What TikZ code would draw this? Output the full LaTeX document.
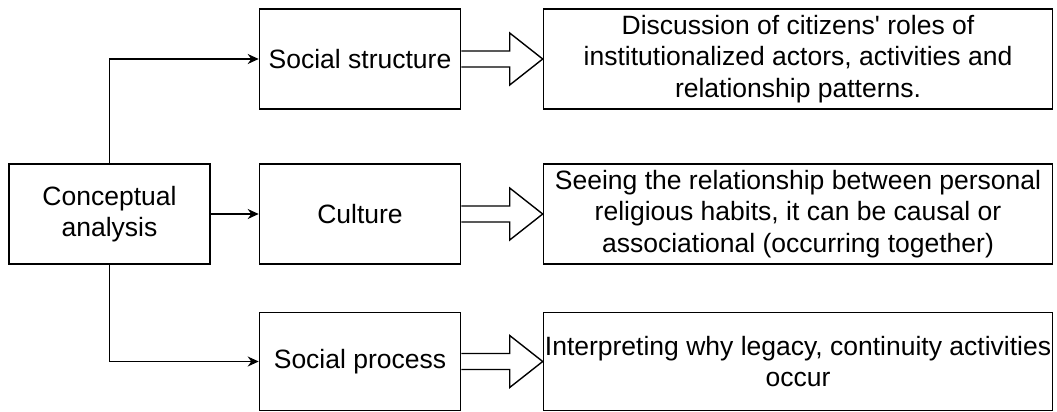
\documentclass[tikz,border=0pt]{standalone}
\usepackage{fontspec}
\setmainfont{Liberation Sans}
\usetikzlibrary{arrows.meta, positioning, calc}

% hollow block arrow from one box to the next
\newcommand{\blockarrow}[2]{%
  \coordinate (tip) at (#2.west |- #1.east);
  \draw[line width=1.4pt, line join=miter]
    ($(#1.east)+(0,8)$) -- ($(tip)+(-33,8)$) -- ($(tip)+(-33,26)$) -- (tip)
    -- ($(tip)+(-33,-26)$) -- ($(tip)+(-33,-8)$) -- ($(#1.east)+(0,-8)$);
}

\begin{document}
\begin{tikzpicture}[x=1pt, y=-1pt,
  box/.style={draw, line width=1.6pt, minimum width=201pt, minimum height=100pt,
    align=center, inner sep=1pt, font=\fontsize{26.5}{31.5}\selectfont},
  wide/.style={box, minimum width=509pt},
  link/.style={line width=1.4pt, -{Stealth[length=11pt, width=10pt]}}]
  \useasboundingbox (0,0) rectangle (1057,412);

  \node[box] (concept) at (109.5,214) {Conceptual\\analysis};
  \node[box] (culture) at (360,214) {Culture};
  \node[box] (structure) at (360,59) {Social structure};
  \node[box, minimum height=98pt] (process) at (360,361.5) {Social process};

  \node[wide] (roles) at (798,59) {Discussion of citizens\textquotesingle{} roles of\\institutionalized actors, activities and\\relationship patterns.};
  \node[wide] (habits) at (798,214) {Seeing the relationship between personal\\religious habits, it can be causal or\\associational (occurring together)};
  \node[wide, minimum height=98pt] (legacy) at (798,361.5) {Interpreting why legacy, continuity activities\\occur};

  \draw[link] (concept.north) |- (structure.west);
  \draw[link] (concept) -- (culture);
  \draw[link] (concept.south) |- (process.west);

  \blockarrow{structure}{roles}
  \blockarrow{culture}{habits}
  \blockarrow{process}{legacy}
\end{tikzpicture}
\end{document}
